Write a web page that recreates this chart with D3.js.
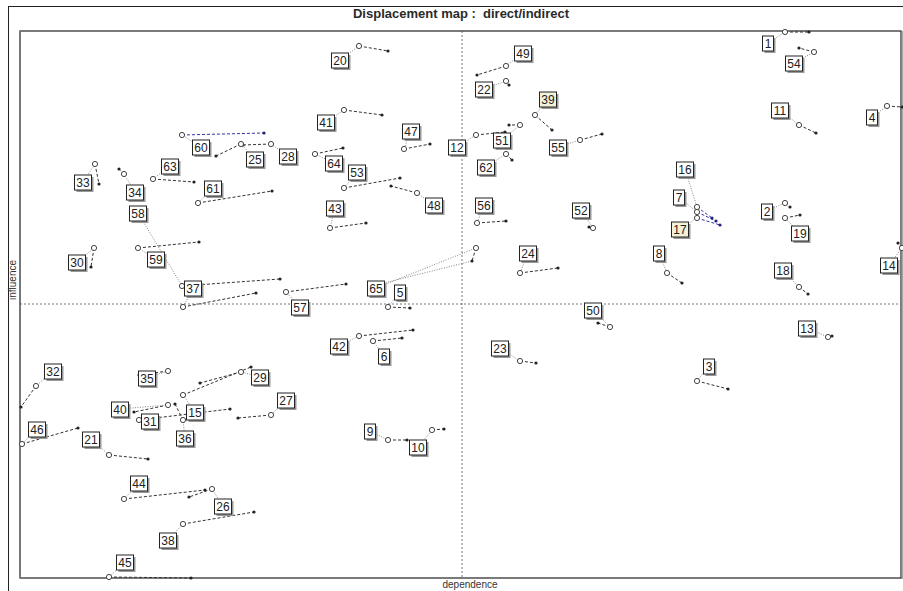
<!DOCTYPE html>
<html>
<head>
<meta charset="utf-8">
<script src="https://cdn.jsdelivr.net/npm/d3@7"></script>
<style>
    body { margin: 0; background: #fff; }
    text { font-family: Arial, "Liberation Sans", sans-serif; }
</style>
</head>
<body>
<div id="chart"></div>
<script>
// variable numbers, in reading order
const variables = [
    1, 2, 3, 4, 5, 6, 7, 8, 9, 10, 11, 12, 13, 14, 15, 16, 17, 18, 19, 20, 21, 22,
    23, 24, 25, 26, 27, 28, 29, 30, 31, 32, 33, 34, 35, 36, 37, 38, 39, 40, 41, 42, 43,
    44, 45, 46, 47, 48, 49, 50, 51, 52, 53, 54, 55, 56, 57, 58, 59, 60, 61, 62, 63, 64, 65
];

// direct position (open circle)
const directDependence = [
    765, 765, 677, 867, 368, 353, 677, 647, 368, 412, 779, 456, 808, 882, 163, 677, 677, 779, 765, 339, 89, 486,
    500, 500, 221, 192, 251, 251, 221, 74, 119, 16, 75, 104, 148, 163, 163, 163, 515, 148, 324, 339, 310,
    104, 89, 2, 384, 397, 486, 590, 500, 573, 324, 794, 560, 457, 266, 162, 118, 162, 178, 486, 133, 295, 456
];
const directInfluence = [
    546, 375, 197, 472, 271, 237, 366, 305, 138, 148, 453, 443, 241, 330, 183, 371, 360, 291, 360, 532, 123, 497,
    217, 305, 434, 89, 163, 434, 206, 330, 158, 192, 414, 404, 207, 158, 271, 54, 463, 173, 468, 242, 350,
    79, 1, 134, 429, 385, 512, 251, 453, 350, 390, 526, 438, 355, 286, 292, 330, 443, 375, 424, 399, 424, 330
];

// indirect position (small dot)
const indirectDependence = [
    789, 770, 708, 882, 390, 382, 696, 662, 387, 424, 796, 485, 812, 878, 231, 692, 700, 788, 780, 368, 128, 489,
    516, 538, 196, 169, 218, 223, 180, 71, 210, 1, 79, 99, 119, 155, 236, 234, 532, 114, 362, 393, 346,
    185, 171, 58, 410, 371, 457, 578, 489, 569, 380, 779, 582, 486, 326, 260, 179, 244, 252, 492, 174, 323, 452
];
const indirectInfluence = [
    546, 371, 189, 471, 270, 240, 357, 295, 138, 149, 445, 446, 242, 335, 211, 360, 353, 284, 363, 527, 119, 493,
    215, 310, 422, 81, 160, 433, 195, 311, 169, 171, 394, 409, 203, 174, 285, 66, 448, 166, 463, 248, 355,
    88, 0, 150, 434, 392, 503, 255, 453, 351, 400, 530, 444, 357, 294, 299, 336, 445, 387, 418, 396, 430, 317
];

// variables drawn in blue
const blueVariables = [7, 16, 17, 60];
// variables whose label box has a pale yellow fill
const tintedVariables = [17, 39];

// label box offset from its circle, in pixels (layout only)
const labelOffsets = [
    [-17, 11], [-18, 8], [12, -15], [-15, 11], [12, -15], [11, 15], [-18, -15], [-8, -20], [-18, -9], [-14, 17],
    [-19, -15], [-19, 12], [-21, -9], [-13, 17], [12, 17], [-12, -38], [-17, 11], [-16, -17], [15, 15], [-19, 14],
    [-18, -16], [-22, 8], [-20, -13], [8, -20], [14, 15], [11, 17], [15, -15], [17, 12], [19, 5], [-17, 14],
    [11, 1], [17, -15], [-12, 18], [11, 18], [-21, 7], [2, 18], [10, -19], [-15, 16], [13, -16], [-48, 4],
    [-18, 12], [-20, 10], [5, -20], [15, -16], [16, -15], [15, -15], [7, -18], [17, 12], [17, -13], [-17, -17],
    [-18, 15], [-12, -18], [13, -16], [-20, 11], [-22, 7], [7, -18], [14, 15], [-44, -73], [18, 11], [19, 12],
    [15, -15], [-20, 13], [17, -13], [19, 9], [-100, 40]
];

const dependenceMid = 442;
const influenceMid = 274;

const data = variables.map((v, i) => ({
    id: v,
    dx: directDependence[i], dy: directInfluence[i],
    ix: indirectDependence[i], iy: indirectInfluence[i],
    off: labelOffsets[i],
    blue: blueVariables.includes(v),
    tint: tintedVariables.includes(v)
}));

const W = 903, H = 591;
const plot = { left: 20, top: 31, right: 901, bottom: 578 };

const x = d3.scaleLinear().domain([0, 881]).range([plot.left, plot.right]);
const y = d3.scaleLinear().domain([0, 547]).range([plot.bottom, plot.top]);

const svg = d3.select("#chart").append("svg")
    .attr("width", W)
    .attr("height", H);

// outer frame
svg.append("rect")
    .attr("x", 8.5).attr("y", 6.5)
    .attr("width", W).attr("height", H)
    .attr("fill", "#fff")
    .attr("stroke", "#222");

svg.append("text")
    .attr("x", 461).attr("y", 18)
    .attr("text-anchor", "middle")
    .style("font-size", "13px")
    .style("font-weight", "bold")
    .style("white-space", "pre")
    .attr("fill", "#2a2a2a")
    .text("Displacement map :  direct/indirect");

// plot frame
svg.append("rect")
    .attr("x", plot.left).attr("y", plot.top)
    .attr("width", plot.right - plot.left).attr("height", plot.bottom - plot.top)
    .attr("fill", "#fff")
    .attr("stroke", "#333")
    .attr("stroke-width", 1.3);

svg.append("line")
    .attr("x1", plot.left).attr("x2", plot.left)
    .attr("y1", plot.top).attr("y2", plot.bottom)
    .attr("stroke", "#777").attr("stroke-width", 2);

svg.append("line")
    .attr("x1", plot.right + 1).attr("x2", plot.right + 1)
    .attr("y1", plot.top).attr("y2", plot.bottom + 1)
    .attr("stroke", "#888").attr("stroke-width", 1.5);

const g = svg.append("g");

// quadrant lines
g.append("line")
    .attr("x1", x(dependenceMid)).attr("x2", x(dependenceMid))
    .attr("y1", plot.top).attr("y2", plot.bottom)
    .attr("stroke", "#555").attr("stroke-width", 0.8)
    .attr("stroke-dasharray", "2,2");

g.append("line")
    .attr("x1", plot.left).attr("x2", plot.right)
    .attr("y1", y(influenceMid)).attr("y2", y(influenceMid))
    .attr("stroke", "#555").attr("stroke-width", 0.8)
    .attr("stroke-dasharray", "2,2");

// axis titles
svg.append("text")
    .attr("x", 470).attr("y", 588)
    .attr("text-anchor", "middle")
    .style("font-size", "10px")
    .attr("fill", "#333")
    .text("dependence");

svg.append("text")
    .attr("transform", "translate(16, 280) rotate(-90)")
    .attr("text-anchor", "middle")
    .style("font-size", "10px")
    .attr("fill", "#333")
    .text("influence");

// leader lines from label to circle
g.selectAll(".leader")
    .data(data)
    .enter()
    .append("line")
    .attr("class", "leader")
    .attr("x1", d => x(d.dx) + d.off[0])
    .attr("y1", d => y(d.dy) + d.off[1])
    .attr("x2", d => x(d.dx))
    .attr("y2", d => y(d.dy))
    .attr("stroke", "#777")
    .attr("stroke-width", 0.9)
    .attr("stroke-dasharray", "1,1.5");

// the far label of 65 also points at its indirect position
g.selectAll(".leader2")
    .data(data.filter(d => d.id === 65))
    .enter()
    .append("line")
    .attr("x1", d => x(d.dx) + d.off[0])
    .attr("y1", d => y(d.dy) + d.off[1] - 3)
    .attr("x2", d => x(d.ix))
    .attr("y2", d => y(d.iy))
    .attr("stroke", "#777")
    .attr("stroke-width", 0.9)
    .attr("stroke-dasharray", "1,1.5");

// displacement lines
g.selectAll(".move")
    .data(data)
    .enter()
    .append("line")
    .attr("class", "move")
    .attr("x1", d => x(d.dx))
    .attr("y1", d => y(d.dy))
    .attr("x2", d => x(d.ix))
    .attr("y2", d => y(d.iy))
    .attr("stroke", d => d.blue ? "#3333aa" : "#333")
    .attr("stroke-width", 1)
    .attr("stroke-dasharray", "3,2");

g.selectAll(".dot")
    .data(data)
    .enter()
    .append("circle")
    .attr("cx", d => x(d.ix))
    .attr("cy", d => y(d.iy))
    .attr("r", 1.6)
    .attr("fill", d => d.blue ? "#222277" : "#222");

g.selectAll(".ring")
    .data(data)
    .enter()
    .append("circle")
    .attr("cx", d => x(d.dx))
    .attr("cy", d => y(d.dy))
    .attr("r", 2.6)
    .attr("fill", "#fff")
    .attr("stroke", "#444")
    .attr("stroke-width", 1);

// label boxes
const labels = g.selectAll(".label")
    .data(data)
    .enter()
    .append("g")
    .attr("transform", d => `translate(${x(d.dx) + d.off[0]}, ${y(d.dy) + d.off[1]})`);

const boxW = d => String(d.id).length > 1 ? 17 : 11;

labels.append("rect")
    .attr("x", d => -boxW(d) / 2 + 2)
    .attr("y", -7 + 2)
    .attr("width", boxW)
    .attr("height", 15)
    .attr("fill", "#999");

labels.append("rect")
    .attr("x", d => -boxW(d) / 2)
    .attr("y", -7)
    .attr("width", boxW)
    .attr("height", 15)
    .attr("fill", d => d.tint ? "#f3f1d8" : "#fff")
    .attr("stroke", "#222")
    .attr("stroke-width", 1);

labels.append("text")
    .attr("y", 5)
    .attr("text-anchor", "middle")
    .style("font-size", "12px")
    .attr("fill", "#222")
    .text(d => d.id);
</script>
</body>
</html>
